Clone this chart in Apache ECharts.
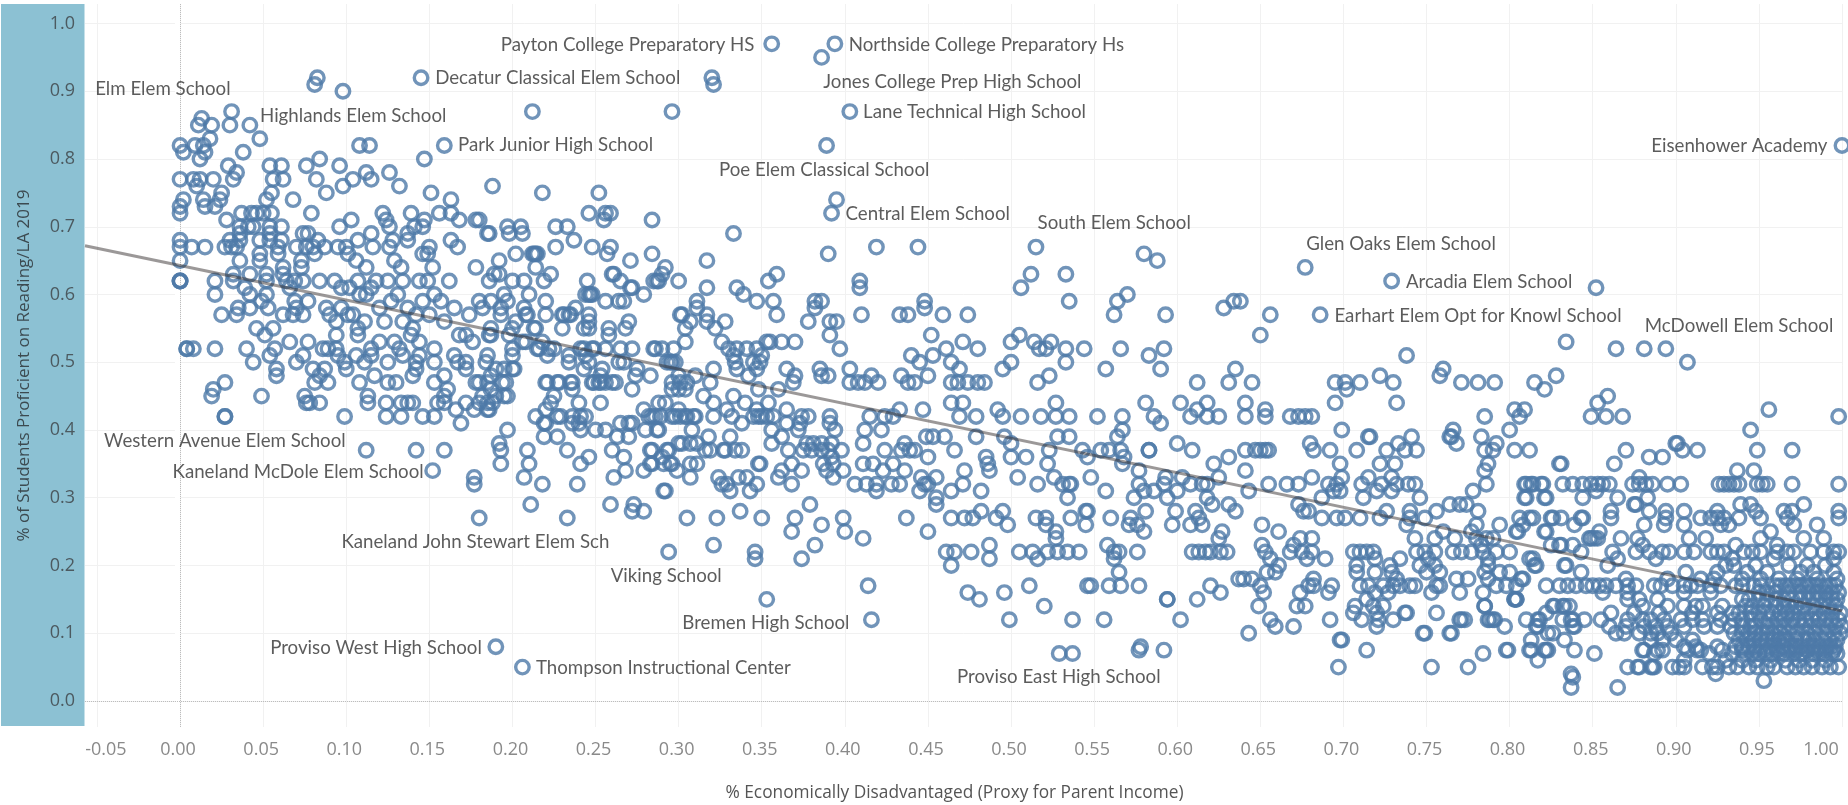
<!DOCTYPE html>
<html><head><meta charset="utf-8">
<style>html,body{margin:0;padding:0;background:#fff}#c{width:1848px;height:805px}</style>
<script src="https://cdn.jsdelivr.net/npm/echarts@6/dist/echarts.min.js"></script>
</head><body><div id="c"></div>
<script>
const rowsTop = [
[.97,[.356,.394]],[.95,[.386]],[.92,[.0826,.145,.32]],[.91,[.081,.321]],[.90,[.098]],[.87,[.031,.212,.296,.403]],
[.86,[.013]],[.85,[.011,.019,.03,.042]],[.83,[.048,.018]],[.82,[0,.009,.014,.108,.114,.159,.389,1.0]],
[.81,[.002,.015,.038]],[.80,[.012,.084,.147]],[.79,[.029,.054,.061,.076,.096]],[.78,[.034,.112,.126]],
[.77,[0,.008,.012,.02,.032,.056,.062,.082,.104,.115]],[.76,[.01,.098,.132,.188]],[.75,[.025,.055,.088,.151,.218,.252]],
[.74,[.002,.014,.024,.052,.068,.163,.395]],[.73,[0,.015,.021]],
[.72,[0,.037,.043,.046,.05,.055,.079,.122,.139,.156,.163,.246,.256,.259,.392]],
[.71,[.028,.103,.124,.147,.168,.178,.18,.255,.284]],[.70,[.036,.041,.044,.054,.061,.096,.126,.141,.146,.197,.205,.226,.233]],
[.69,[.036,.054,.074,.077,.115,.137,.186,.185,.198,.206,.333]],[.68,[0,.03,.036,.048,.054,.061,.083,.107,.128,.137,.163,.237]],
[.67,[0,.007,.015,.027,.031,.034,.059,.07,.076,.08,.087,.095,.1,.116,.126,.15,.167,.226,.248,.259,.419,.444,.515]],
[.66,[.059,.081,.048,.101,.146,.149,.202,.212,.214,.213,.215,.257,.284,.39,.58]],
[.65,[0,.036,.048,.073,.106,.129,.192,.271,.317,.588]],[.64,[.062,.073,.112,.133,.152,.178,.214,.292,.677]],
[.63,[.032,.042,.052,.062,.192,.223,.26,.189,.261,.29,.359,.512,.533]],
[.62,[0,0,0,.021,.032,.052,.064,.069,.074,.084,.093,.107,.118,.125,.134,.144,.149,.162,.186,.2,.207,.219,.245,.265,.285,.287,.288,.3,.354,.409,.729]],
[.61,[.039,.066,.097,.102,.115,.272,.271,.317,.335,.506,.409,.852]],
[.60,[.021,.042,.052,.108,.112,.131,.153,.195,.21,.246,.248,.244,.247,.279,.339,.57]],
[.59,[.049,.069,.077,.127,.146,.157,.18,.187,.197,.22,.256,.264,.267,.311,.347,.357,.382,.386,.448,.535,.564,.634,.638]],
[.58,[.035,.042,.053,.07,.088,.097,.12,.137,.165,.182,.193,.207,.238,.311,.382,.448,.628]],
[.57,[.025,.034,.062,.068,.074,.09,.101,.104,.142,.15,.174,.193,.208,.22,.23,.234,.246,.209,.231,.235,.301,.302,.317,.359,.41,.433,.438,.459,.474,.562,.593,.656,.686]],
[.56,[.094,.111,.123,.134,.159,.202,.246,.27,.307,.317,.328,.378,.391,.395]],
[.55,[.046,.056,.107,.14,.187,.2,.213,.246,.23,.243,.258,.268,.304,.322,.214]],
[.54,[.051,.094,.107,.139,.168,.172,.187,.198,.258,.186,.391,.452,.505,.65]],
[.53,[.066,.077,.12,.129,.144,.176,.208,.218,.304,.326,.355,.362,.37,.5,.514,.524,.471,.834,.206,.353]]
];
const rowsMiddle = [
[.52,[.004,.004,.008,.021,.04,.057,.086,.089,.094,.115,.132,.153,.215,.225,.241,.248,.256,.2,.216,.222,.243,.249,.265,.272,.285,.29,.297,.33,.335,.341,.347,.461,.397,.286,.48,.517,.521,.533,.544,.566,.592,.864,.881,.894]],
[.51,[.054,.074,.095,.106,.115,.134,.144,.165,.2,.221,.185,.234,.244,.333,.35,.44,.453,.583,.738]],
[.50,[.044,.07,.099,.111,.125,.142,.153,.167,.172,.184,.234,.246,.264,.267,.293,.296,.295,.298,.334,.345,.349,.445,.464,.5,.533,.907]],
[.49,[.058,.08,.087,.1,.142,.172,.19,.2,.243,.254,.201,.195,.275,.321,.335,.347,.365,.385,.403,.469,.495,.557,.59,.635,.76]],
[.48,[.058,.084,.117,.14,.159,.187,.253,.274,.283,.3,.31,.342,.37,.386,.39,.416,.434,.45,.523,.722,.758,.828]],
[.47,[.027,.081,.089,.108,.125,.13,.153,.18,.221,.228,.236,.249,.253,.26,.194,.178,.185,.196,.22,.227,.235,.248,.252,.256,.262,.296,.301,.305,.319,.369,.403,.408,.412,.42,.438,.442,.464,.468,.474,.48,.484,.516,.612,.631,.645,.695,.701,.71,.73,.771,.781,.791,.815]],
[.46,[.02,.161,.187,.236,.272,.296,.3,.304,.348,.36,.702,.821]],
[.45,[.019,.049,.075,.113,.159,.182,.19,.195,.197,.225,.315,.333,.859]],
[.44,[.076,.078,.084,.113,.124,.133,.137,.14,.155,.159,.172,.18,.185,.188,.223,.24,.253,.288,.292,.321,.34,.354,.464,.471,.527,.641,.695,.732,.853,.581,.602,.618]],
[.43,[.166,.177,.186,.22,.185,.279,.3,.329,.347,.365,.433,.447,.492,.612,.653,.803,.809,.956]],
[.42,[.027,.027,.099,.124,.133,.146,.153,.214,.229,.236,.244,.227,.241,.284,.289,.298,.301,.305,.31,.321,.332,.35,.353,.282,.286,.296,.304,.309,.345,.348,.357,.374,.378,.391,.415,.424,.429,.469,.479,.495,.506,.518,.527,.535,.552,.567,.586,.608,.618,.625,.641,.653,.668,.673,.677,.681,.785,.806,.849,.858,.868,.998]],
[.41,[.169,.22,.219,.236,.24,.265,.272,.27,.338,.365,.373,.391,.59]],
[.40,[.197,.25,.256,.241,.28,.288,.287,.308,.356,.372,.394,.412,.422,.567,.699,.766,.8,.945]],
[.39,[.219,.227,.263,.27,.318,.331,.362,.449,.453,.46,.479,.496,.528,.535,.564,.716,.741,.765,.764,.783,.715]],
[.38,[.192,.3,.307,.311,.302,.356,.377,.381,.386,.392,.411,.436,.5,.6,.68,.733,.768,.792,.901,.9]],
[.37,[.112,.142,.159,.193,.209,.233,.26,.283,.293,.316,.319,.327,.334,.338,.284,.294,.328,.366,.375,.38,.386,.39,.398,.424,.434,.439,.442,.466,.523,.543,.554,.559,.566,.583,.583,.609,.641,.647,.65,.653,.655,.682,.692,.708,.726,.737,.744,.785,.79,.803,.812,.87,.904,.913,.949,.97]],
[.36,[.246,.267,.29,.392,.45,.485,.509,.546,.568,.631,.5,.884,.892]],
[.35,[.193,.21,.241,.284,.291,.295,.307,.311,.349,.283,.296,.348,.368,.411,.417,.429,.387,.393,.486,.522,.622,.567,.698,.722,.731,.787,.83,.831,.863]],
[.34,[.152,.268,.279,.299,.362,.374,.389,.399,.423,.436,.472,.487,.577,.641,.785,.937,.947]],
[.33,[.177,.207,.261,.307,.324,.336,.341,.36,.393,.446,.455,.504,.526,.548,.593,.603,.625,.729,.715,.681,.699,.878]]
];
const rowsLower = [
[.32,[.177,.218,.239,.326,.329,.347,.368,.406,.413,.419,.428,.433,.448,.45,.471,.516,.531,.535,.536,.577,.592,.608,.615,.618,.655,.666,.673,.691,.696,.711,.723,.732,.739,.743,.786,.809,.813,.819,.81,.814,.82,.832,.838,.844,.849,.853,.856,.86,.874,.878,.882,.886,.895,.903,.926,.929,.932,.935,.938,.949,.952,.955,.97,.998]],
[.31,[.291,.292,.331,.343,.419,.445,.464,.482,.557,.58,.6,.586,.643,.694,.698,.72,.729,.778,.852]],
[.30,[.455,.534,.574,.594,.618,.687,.712,.746,.809,.821,.81,.822,.844,.865,.883]],
[.29,[.211,.259,.273,.379,.455,.621,.631,.673,.764,.77,.774,.875,.876,.939,.945,.977]],
[.28,[.272,.279,.337,.482,.495,.545,.546,.581,.599,.611,.635,.676,.679,.726,.74,.756,.781,.861,.884,.894,.905,.925,.948,.965,.97,.998]],
[.27,[.18,.233,.305,.323,.35,.37,.399,.437,.464,.472,.477,.491,.515,.521,.536,.56,.572,.613,.687,.696,.701,.71,.722,.74,.749,.806,.814,.825,.812,.826,.831,.844,.843,.861,.894,.915,.921,.925,.929,.938,.951,.967,.998]],
[.26,[.386,.521,.545,.498,.571,.576,.597,.608,.615,.651,.738,.78,.794,.808,.839,.881,.893,.905,.927,.932,.971,.985]],
[.25,[.368,.4,.45,.527,.58,.627,.661,.76,.804,.821,.777,.805,.822,.854,.957]],
[.24,[.411,.527,.625,.674,.681,.743,.755,.767,.79,.78,.786,.849,.853,.848,.851,.867,.877,.908,.918,.951,.977,.989]],
[.23,[.321,.382,.487,.558,.651,.67,.783,.825,.83,.838,.831,.88,.936,.961]],
[.22,[.294,.346,.461,.466,.476,.505,.513,.522,.528,.534,.541,.562,.565,.576,.609,.613,.617,.62,.626,.63,.653,.668,.675,.681,.706,.71,.714,.718,.744,.749,.755,.766,.771,.777,.784,.792,.8,.843,.862,.876,.884,.892,.896,.905,.911,.921,.925,.929,.941,.946,.951,.961,.967,.971,.981,.989,.995,.998]],
[.21,[.346,.374,.487,.516,.562,.656,.678,.689,.719,.734,.751,.787,.812,.814,.865,.888,.934,.959,.995]],
[.20,[.464,.661,.708,.728,.746,.755,.787,.815,.816,.833,.834,.859,.935,.979,.93,.948,.968,.99]],
[.19,[.565,.654,.659,.708,.719,.729,.75,.758,.785,.794,.8,.843,.943,.983,.906,.925,.955,.975,.995]],
[.18,[.637,.64,.645,.682,.732,.768,.775,.787,.808,.807,.923,.951,.973,.997,.87,.895,.915,.94,.962,.985]],
[.17,[.414,.511,.546,.548,.559,.566,.577,.62,.65,.679,.682,.693,.71,.715,.724,.73,.734,.74,.743,.756,.758,.792,.798,.804,.822,.83,.835,.84,.846,.85,.854,.858,.864,.871,.876,.887,.891,.898,.905,.909,.913,.921,.927,.936,.94,.947,.951,.96,.963,.966,.969,.972,.975,.978,.981,.984,.987,.99,.993,.996]]
];
const rowsBottom = [
[.16,[.474,.496,.626,.652,.674,.691,.719,.727,.753,.77,.784,.856,.871,.905,.921,.95,.96,.975,.985,.994,.955,.968,.98,.99,.998]],
[.15,[.353,.481,.594,.594,.612,.714,.803,.803,.804,.804,.871,.878,.889,.94,.955,.965,.97,.98,.99,.997,.944,.95,.96,.975,.985,.994]],
[.14,[.52,.649,.672,.677,.707,.718,.724,.785,.785,.826,.827,.832,.836,.833,.912,.916,.928,.942,.953,.96,.968,.972,.977,.983,.988,.992,.996,.88,.895,.905,.946,.965]],
[.13,[.706,.737,.756,.72,.738,.822,.861,.938,.945,.95,.958,.963,.967,.974,.979,.984,.989,.994,.999,.875,.89,.91,.925,.934,.955,.97]],
[.12,[.416,.499,.537,.556,.602,.656,.692,.711,.721,.73,.77,.773,.788,.791,.81,.817,.818,.832,.838,.771,.787,.79,.837,.845,.855,.871,.893,.903,.91,.916,.927,.94,.946,.951,.956,.961,.965,.97,.974,.978,.982,.986,.99,.994,.998,.88,.885,.935]],
[.11,[.659,.67,.72,.797,.816,.817,.839,.838,.86,.881,.895,.917,.94,.948,.955,.96,.965,.97,.976,.981,.986,.991,.996,1.0,.87,.888,.905,.925,.933,.945]],
[.10,[.643,.748,.764,.765,.749,.823,.826,.864,.869,.878,.889,.935,.944,.952,.958,.963,.968,.973,.979,.984,.99,.995,.999,.885,.897,.94,.948,.955]],
[.09,[.698,.699,.813,.833,.892,.91,.938,.947,.955,.962,.967,.972,.977,.983,.988,.993,.997,.885,.9,.943,.951,.959,.965,.98]],
[.08,[.19,.578,.925,.936,.944,.951,.957,.964,.969,.975,.98,.986,.991,.996,.905,.912,.94,.947,.96,.972,.983,.993]],
[.075,[.577,.592,.714,.799,.798,.812,.821,.813,.822,.839,.823,.88,.892,.881,.889,.907,.913,.915,.928,.94,.948,.955,.961,.967,.973,.979,.985,.99,.995]],
[.07,[.529,.537,.784,.851,.887,.934,.942,.95,.958,.965,.971,.977,.983,.989,.994,.92,.946,.954,.962,.975,.986,.997]],
[.06,[.817,.905,.93,.94,.948,.957,.966,.974,.982,.99]],
[.05,[.206,.697,.753,.775,.871,.877,.885,.887,.898,.902,.905,.916,.922,.925,.932,.937,.944,.949,.955,.959,.967,.972,.977,.988,.993,.998,.878,.886,.982]],
[.04,[.837,.924]],[.035,[.838]],[.03,[.953]],[.02,[.837,.865]]
];
const trendLine = [[-0.0572,.672],[1.0,.133]];
const labelNames = ["Elm Elem School","Highlands Elem School","Decatur Classical Elem School","Park Junior High School","Payton College Preparatory HS","Northside College Preparatory Hs","Jones College Prep High School","Lane Technical High School","Poe Elem Classical School","Central Elem School","South Elem School","Glen Oaks Elem School","Arcadia Elem School","Earhart Elem Opt for Knowl School","McDowell Elem School","Eisenhower Academy","Western Avenue Elem School","Kaneland McDole Elem School","Kaneland John Stewart Elem Sch","Viking School","Bremen High School","Proviso West High School","Thompson Instructional Center","Proviso East High School"];
const labelX = [-.0511,.0481,.1535,.1673,.193,.4023,.387,.411,.3243,.4004,.516,.6776,.7376,.6946,.8813,.8852,-.0457,-.0045,.0971,.2591,.3022,.0542,.2141,.4675];
const labelY = [.903,.863,.92,.82,.968,.968,.913,.87,.784,.7185,.705,.674,.619,.569,.5536,.819,.384,.3386,.2352,.1845,.1147,.0787,.0492,.0359];
const xTicks = [-.05,0,.05,.1,.15,.2,.25,.3,.35,.4,.45,.5,.55,.6,.65,.7,.75,.8,.85,.9,.95,1];
const yTicks = [0,.1,.2,.3,.4,.5,.6,.7,.8,.9,1];
const xTitle = "% Economically Disadvantaged (Proxy for Parent Income)";
const yTitle = "% of Students Proficient on Reading/LA 2019";

const points = [];
for (const rows of [rowsTop,rowsMiddle,rowsLower,rowsBottom])
  for (const [y,xs] of rows) for (const x of xs) points.push([x,y]);

const chart = echarts.init(document.getElementById('c'),null,{renderer:'canvas'});
const tickFont = '"Open Sans"';
chart.setOption({
  animation:false,
  backgroundColor:'#fff',
  graphic:[{type:'rect',z:0,shape:{x:1,y:4,width:83.5,height:722},style:{fill:'#8cc1d3'}}],
  grid:{left:85,right:6,top:4,bottom:78,outerBoundsMode:'none'},
  xAxis:{type:'value',min:-0.0572,max:1.0,
    name:xTitle,nameLocation:'middle',nameGap:58,
    nameTextStyle:{fontFamily:tickFont,fontSize:17.3,fontWeight:500,color:'#555',padding:[0,18,0,0]},
    axisLine:{show:false},
    axisTick:{show:false,customValues:xTicks},
    splitLine:{show:true,lineStyle:{color:'#f1f1f1',width:1}},
    axisLabel:{customValues:xTicks,margin:14,hideOverlap:false,showMinLabel:true,showMaxLabel:true,
      color:'#8a8a8a',fontFamily:tickFont,fontSize:18,
      formatter:v=>{const s=v.toFixed(2); if(s==='-0.05')return '{a|'+s+'}'; if(s==='1.00')return '{b|'+s+'}'; return '{c|'+s+'}';},
      rich:{a:{padding:[0,0,0,18],color:'#8a8a8a',fontFamily:tickFont,fontSize:18},
            b:{padding:[0,42,0,0],color:'#8a8a8a',fontFamily:tickFont,fontSize:18},
            c:{padding:[0,4,0,0],color:'#8a8a8a',fontFamily:tickFont,fontSize:18}}}
  },
  yAxis:{type:'value',min:-0.0384,max:1.0288,
    name:yTitle,nameLocation:'middle',nameGap:52,nameRotate:90,
    nameTextStyle:{fontFamily:tickFont,fontSize:17,fontWeight:500,color:'#3c4a50'},
    axisLine:{show:false},
    axisTick:{show:true,customValues:yTicks,length:5,lineStyle:{color:'#ffffff',width:1}},
    splitLine:{show:true,lineStyle:{color:'#f1f1f1',width:1}},
    axisLabel:{customValues:yTicks,margin:10,color:'#4c5a60',fontFamily:tickFont,fontSize:18,formatter:v=>v.toFixed(1)}
  },
  series:[
    {type:'scatter',name:'Schools',data:points,symbol:'circle',symbolSize:13.5,silent:true,z:2,
     itemStyle:{color:'rgba(0,0,0,0)',borderColor:'#4e79a7',borderWidth:3.4}},
    {type:'line',name:'Trend',data:trendLine,symbol:'none',silent:true,z:3,
     lineStyle:{color:'rgba(55,50,50,0.5)',width:3},
     markLine:{silent:true,symbol:'none',label:{show:false},animation:false,z:1,
       lineStyle:{color:'#bdbdbd',type:'dotted',width:1},
       data:[{xAxis:0},{yAxis:0}]}},
    {type:'scatter',name:'Labels',silent:true,z:4,symbolSize:0,clip:false,
     data:labelNames.map((n,i)=>({name:n,value:[labelX[i],labelY[i]]})),
     label:{show:true,position:'right',distance:0,formatter:'{b}',color:'#333',fontFamily:'Lato',fontSize:18.7}}
  ]
});
</script></body></html>
